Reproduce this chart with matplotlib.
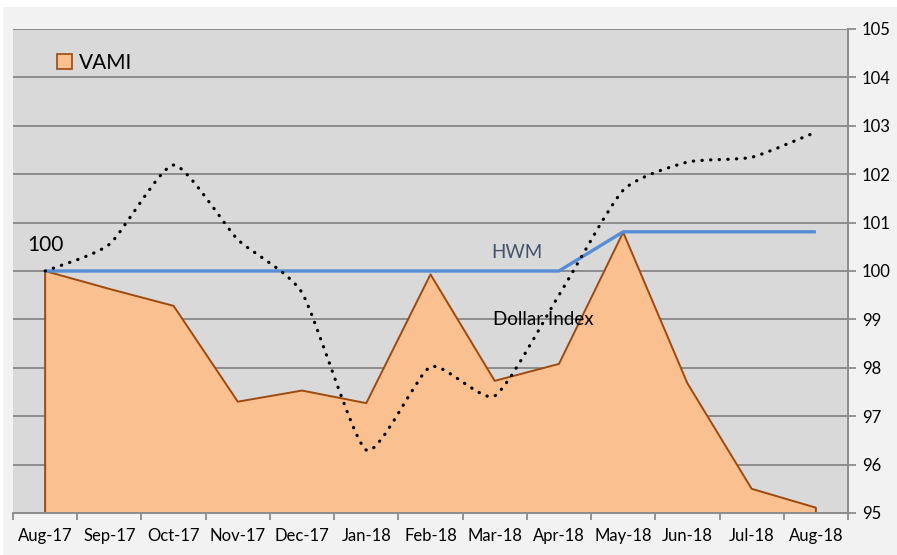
import numpy as np
import matplotlib
matplotlib.use("Agg")
import matplotlib.pyplot as plt
from matplotlib.path import Path
from matplotlib.patches import PathPatch, Patch, Rectangle

months = ["Aug-17", "Sep-17", "Oct-17", "Nov-17", "Dec-17", "Jan-18", "Feb-18",
          "Mar-18", "Apr-18", "May-18", "Jun-18", "Jul-18", "Aug-18"]
vami = [100.0, 99.63, 99.28, 97.3, 97.53, 97.27, 99.93, 97.73, 98.08, 100.8, 97.68, 95.5, 95.11]
hwm = [100.0, 100.0, 100.0, 100.0, 100.0, 100.0, 100.0, 100.0, 100.0, 100.81, 100.81, 100.81, 100.81]
dollar = [100.0, 100.55, 102.19, 100.65, 99.55, 96.3, 98.02, 97.42, 99.5, 101.67, 102.25, 102.35, 102.87]

ymin, ymax = 95, 105

plt.rcParams['font.family'] = ['Lato', 'DejaVu Sans']

fig = plt.figure(figsize=(8.97, 5.55), dpi=100, facecolor="white")
fig.patches.append(Rectangle((3 / 897, 0), 1, 1 - 7 / 555, transform=fig.transFigure,
                             facecolor="#F2F2F2", edgecolor="none", zorder=-10))
ax = fig.add_axes([13 / 897, 1 - 513 / 555, 835 / 897, 484 / 555])
ax.set_facecolor("#D9D9D9")

x = np.arange(len(months))

# VAMI area
ax.fill_between(x, ymin, vami, color="#FAC090", linewidth=0, zorder=2)
ax.plot(np.r_[x[0], x, x[-1]], np.r_[ymin, vami, ymin], color="#9C4A10", lw=1.4, zorder=3)

# HWM
ax.plot(x, hwm, color="#558ED5", lw=2.4, zorder=4, solid_capstyle="butt")

# Dollar index as lightly smoothed line (bezier through the points)
pts = np.column_stack([x, dollar]).astype(float)
verts = [pts[0]]
codes = [Path.MOVETO]
n = len(pts)
k = 0.1
for i in range(n - 1):
    p0 = pts[max(i - 1, 0)]
    p1 = pts[i]
    p2 = pts[i + 1]
    p3 = pts[min(i + 2, n - 1)]
    c1 = p1 + (p2 - p0) * k
    c2 = p2 - (p3 - p1) * k
    verts += [c1, c2, p2]
    codes += [Path.CURVE4] * 3
ax.add_patch(PathPatch(Path(verts, codes), facecolor="none", edgecolor="black", lw=2.3,
                       linestyle=(0, (0.1, 2.6)), capstyle="round", zorder=5))

ax.text(0, 100.33, "100", fontsize=15, ha="center", va="bottom", color="black")
ax.text(7.35, 100.39, "HWM", fontsize=13.5, ha="center", va="center", color="#44546A")
ax.text(7.75, 99.0, "Dollar Index", fontsize=13.5, ha="center", va="center", color="black")

ax.set_xlim(-0.5, len(months) - 0.5)
ax.set_ylim(ymin, ymax)
ax.set_xticks(x)
ax.set_xticklabels(months, fontsize=12)
ax.set_xticks(np.arange(-0.5, len(months), 1), minor=True)
ax.tick_params(axis="x", which="major", length=0, pad=11)
ax.tick_params(axis="x", which="minor", length=5, color="#8C8C8C", width=1.3)

ax.yaxis.tick_right()
ax.set_yticks(np.arange(ymin, ymax + 1, 1))
ax.tick_params(axis="y", length=6, color="#8C8C8C", width=1.3, labelsize=12, pad=4)
ax.grid(axis="y", color="#8C8C8C", lw=1.4)
ax.set_axisbelow(True)

for s in ["top", "left"]:
    ax.spines[s].set_visible(False)
ax.spines["right"].set_color("#8C8C8C")
ax.spines["right"].set_linewidth(1.4)
ax.spines["bottom"].set_color("#8C8C8C")
ax.spines["bottom"].set_linewidth(1.4)
ax.spines["bottom"].set_zorder(6)

leg = ax.legend(handles=[Patch(facecolor="#FAC090", edgecolor="#9C4A10", lw=1.2, label="VAMI")],
                loc="upper left", bbox_to_anchor=(0.03, 0.99), frameon=False, fontsize=15,
                handlelength=0.75, handleheight=0.75, handletextpad=0.3)

fig.savefig("out.png", dpi=100, facecolor=fig.get_facecolor())
